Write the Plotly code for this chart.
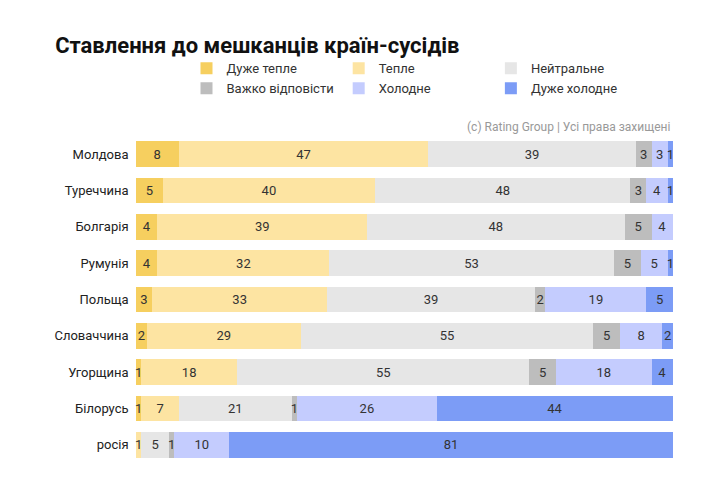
import plotly.graph_objects as go

countries = ["Молдова", "Туреччина", "Болгарія", "Румунія", "Польща",
             "Словаччина", "Угорщина", "Білорусь", "росія"]
series = ["Дуже тепле", "Тепле", "Нейтральне", "Важко відповісти", "Холодне", "Дуже холодне"]
very_warm = [8, 5, 4, 4, 3, 2, 1, 1, 0]
warm = [47, 40, 39, 32, 33, 29, 18, 7, 1]
neutral = [39, 48, 48, 53, 39, 55, 55, 21, 5]
hard = [3, 3, 5, 5, 2, 5, 5, 1, 1]
cold = [3, 4, 4, 5, 19, 8, 18, 26, 10]
very_cold = [1, 1, 0, 1, 5, 2, 4, 44, 81]
values = [very_warm, warm, neutral, hard, cold, very_cold]
colors = ["#F6CF5F", "#FDE4A2", "#E6E6E6", "#BDBDBD", "#C4CCFE", "#7C9CF6"]

fig = go.Figure()
for name, vals, col in zip(series, values, colors):
    fig.add_trace(go.Bar(
        y=countries, x=vals, name=name, orientation="h",
        marker=dict(color=col, line=dict(width=0)),
        text=[str(v) if v > 0 else "" for v in vals],
        textposition="inside", insidetextanchor="middle",
        textfont=dict(size=13, color="#333333"), cliponaxis=False,
        constraintext="none",
    ))

fig.update_layout(
    barmode="stack", barnorm="percent", bargap=0.3,
    width=725, height=500, plot_bgcolor="white", paper_bgcolor="white",
    font=dict(family="Roboto, Arial", size=13, color="#333333"),
    title=dict(text="<b>Ставлення до мешканців країн-сусідів</b>", x=0.065, y=0.925,
               yanchor="middle", font=dict(size=22, color="#111111")),
    margin=dict(l=128, r=60, t=128, b=45),
    legend=dict(orientation="h", x=0.5, xanchor="center", y=1.1, yanchor="bottom",
                font=dict(size=13), traceorder="normal", entrywidthmode="pixels",
                itemwidth=30, tracegroupgap=0),
    uniformtext=dict(minsize=8, mode="show"),
)
fig.update_xaxes(visible=False, range=[0, 100], automargin=False)
fig.update_yaxes(autorange="reversed", showgrid=False, ticks="", ticksuffix="  ",
                 automargin=False, tickfont=dict(size=13, color="#222222"))
fig.add_annotation(text="(c) Rating Group | Усі права захищені", xref="paper", yref="paper",
                   x=1, y=1.0, xanchor="right", yanchor="bottom", showarrow=False,
                   font=dict(size=12, color="#999999"))
fig.write_html("out.html")
